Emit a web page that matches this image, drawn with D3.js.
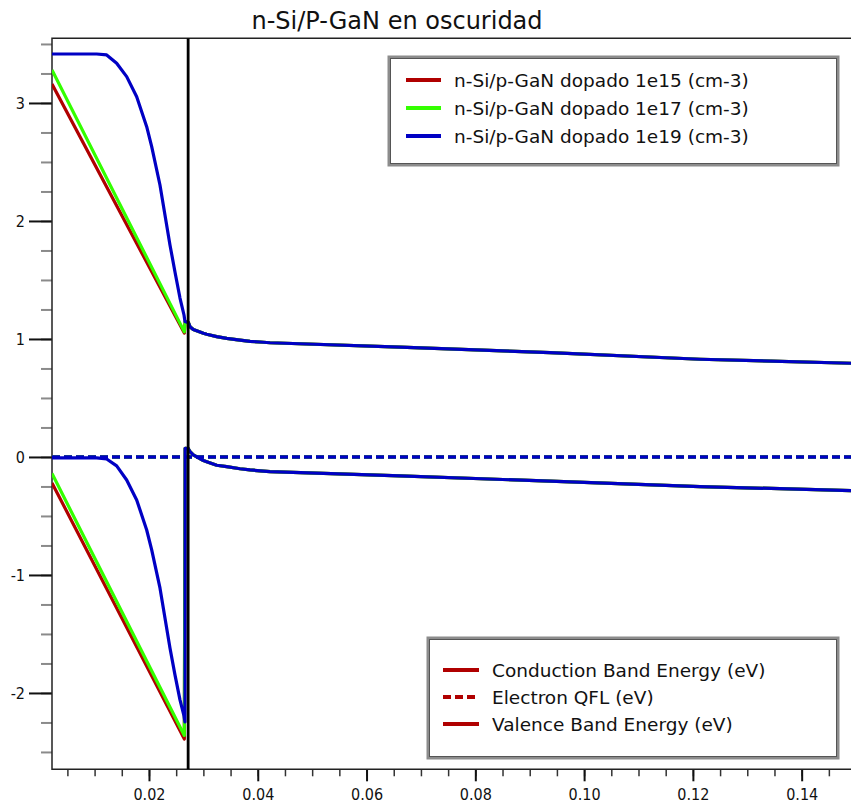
<!DOCTYPE html>
<html>
<head>
<meta charset="utf-8">
<script src="https://cdn.jsdelivr.net/npm/d3@7"></script>
<style>
    html, body { margin: 0; padding: 0; background: #fff; }
    svg { display: block; }
</style>
</head>
<body>
<div class="svg-container"></div>
<script>
'use strict';

// axis ticks
var xMajorTicks = [0.02, 0.04, 0.06, 0.08, 0.10, 0.12, 0.14];
var xTickLabels = ['0.02', '0.04', '0.06', '0.08', '0.10', '0.12', '0.14'];
var yMajorTicks = [-2, -1, 0, 1, 2, 3];
var yTickLabels = ['-2', '-1', '0', '1', '2', '3'];

var xDomain = [0.00217, 0.14907];
var yDomain = [-2.647, 3.548];
var junctionX = 0.0272;

// p-GaN side, 1e15 and 1e17 are straight
var ganX = [0.00217, 0.0265];
var ecGaN15 = [3.16, 1.05];
var evGaN15 = [-0.22, -2.39];
var ecGaN17 = [3.28, 1.06];
var evGaN17 = [-0.14, -2.36];

// p-GaN side, 1e19
var ganX19 = [0.00217, 0.0085, 0.01038, 0.01222, 0.01406, 0.0159, 0.01774, 0.01958,
    0.0205, 0.02202, 0.02294, 0.02386, 0.02478, 0.0257, 0.02644, 0.02662];
var ecGaN19 = [3.415, 3.415, 3.415, 3.407, 3.336, 3.223, 3.053, 2.799,
    2.63, 2.305, 2.05, 1.797, 1.568, 1.347, 1.203, 1.147];
var evGaN19 = [-0.008, -0.008, -0.008, -0.017, -0.076, -0.195, -0.364, -0.619,
    -0.788, -1.11, -1.364, -1.619, -1.847, -2.059, -2.195, -2.246];

// n-Si side, the three dopings overlap
var siX = [0.02665, 0.02723, 0.02754, 0.02814, 0.03, 0.03061, 0.03245, 0.03429,
    0.03673, 0.03857, 0.04102, 0.04225, 0.06615, 0.09373, 0.1213, 0.14907];
var ecSi = [1.147, 1.14, 1.104, 1.08, 1.048, 1.04, 1.02, 1.005,
    0.99, 0.98, 0.972, 0.968, 0.93, 0.885, 0.828, 0.794];
var evSi = [0.074, 0.07, 0.045, 0.017, -0.03, -0.04, -0.07, -0.082,
    -0.10, -0.11, -0.12, -0.124, -0.16, -0.205, -0.251, -0.285];

// electron quasi fermi level
var qflX = [0.00217, 0.14907];
var qfl = [0, 0];

var dopings = ['1e15', '1e17', '1e19'];
var dopingColors = ['#b00000', '#33ff00', '#0000c4'];
var bandLabels = ['Conduction Band Energy (eV)', 'Electron QFL (eV)', 'Valence Band Energy (eV)'];

var W = 851, H = 807;
var plot = {left: 52, top: 38.3, right: 851, bottom: 769.3};

function zip(xs, ys){
    return xs.map(function(x, i){ return [x, ys[i]]; });
}

var svg = d3.select('.svg-container').append('svg')
    .attr('width', W)
    .attr('height', H)
    .style('font-family', '"DejaVu Sans", Verdana, sans-serif');

var x = d3.scaleLinear().domain(xDomain).range([plot.left, plot.right]);
var y = d3.scaleLinear().domain(yDomain).range([plot.bottom, plot.top]);

svg.append('defs').append('clipPath')
    .attr('id', 'plotClip')
    .append('rect')
    .attr('x', plot.left)
    .attr('y', plot.top)
    .attr('width', plot.right - plot.left)
    .attr('height', plot.bottom - plot.top);

// title
svg.append('text')
    .attr('x', 397)
    .attr('y', 29)
    .attr('text-anchor', 'middle')
    .style('font-size', '24px')
    .style('fill', '#111')
    .text('n-Si/P-GaN en oscuridad');

// axes: minor ticks first, then major
function styleAxis(g, color, width){
    g.select('.domain').remove();
    g.selectAll('.tick line').attr('stroke', color).attr('stroke-width', width);
    g.selectAll('.tick text')
        .style('font-family', '"DejaVu Sans Condensed", "DejaVu Sans", sans-serif')
        .style('font-size', '16px')
        .style('fill', '#111');
}

svg.append('g')
    .attr('transform', 'translate(0,' + plot.bottom + ')')
    .call(d3.axisBottom(x).tickValues(d3.range(0.005, 0.1491, 0.005)).tickSize(7).tickFormat(''))
    .call(styleAxis, '#333', 1.5);

svg.append('g')
    .attr('transform', 'translate(0,' + plot.bottom + ')')
    .call(d3.axisBottom(x).tickValues(xMajorTicks).tickSize(12).tickPadding(7)
        .tickFormat(function(d, i){ return xTickLabels[i]; }))
    .call(styleAxis, '#111', 2);

svg.append('g')
    .attr('transform', 'translate(' + plot.left + ',0)')
    .call(d3.axisLeft(y).tickValues(d3.range(-2.5, 3.6, 0.25)).tickSize(11).tickFormat(''))
    .call(styleAxis, '#8a8a8a', 2);

svg.append('g')
    .attr('transform', 'translate(' + plot.left + ',0)')
    .call(d3.axisLeft(y).tickValues(yMajorTicks).tickSize(23).tickPadding(4)
        .tickFormat(function(d, i){ return yTickLabels[i]; }))
    .call(styleAxis, '#111', 2);

// frame
svg.append('path')
    .attr('d', 'M' + (plot.right + 2) + ',' + plot.top + 'H' + plot.left + 'V' + plot.bottom + 'H' + (plot.right + 2))
    .attr('fill', 'none')
    .attr('stroke', '#222')
    .attr('stroke-width', 1.5);

var line = d3.line()
    .x(function(d){ return x(d[0]); })
    .y(function(d){ return y(d[1]); });

var curves = svg.append('g').attr('clip-path', 'url(#plotClip)');

var ganData = [
    {ec: zip(ganX, ecGaN15), ev: zip(ganX, evGaN15)},
    {ec: zip(ganX, ecGaN17), ev: zip(ganX, evGaN17)},
    {ec: zip(ganX19, ecGaN19), ev: zip(ganX19, evGaN19)}
];

ganData.forEach(function(d, i){
    var ec = d.ec.concat(zip(siX, ecSi));
    var ev = d.ev.concat(zip(siX, evSi));
    [ec, ev].forEach(function(pts){
        curves.append('path')
            .datum(pts)
            .attr('d', line)
            .attr('fill', 'none')
            .attr('stroke', dopingColors[i])
            .attr('stroke-width', 3.2)
            .attr('stroke-linejoin', 'round');
    });
    curves.append('path')
        .datum(zip(qflX, qfl))
        .attr('d', line)
        .attr('fill', 'none')
        .attr('stroke', dopingColors[i])
        .attr('stroke-width', 3.5)
        .attr('stroke-dasharray', '8,4');
});

// junction
curves.append('line')
    .attr('x1', x(junctionX)).attr('x2', x(junctionX))
    .attr('y1', plot.top).attr('y2', plot.bottom)
    .attr('stroke', '#000')
    .attr('stroke-width', 2.8);

// legends
function legendBox(bx, by, bw, bh){
    var g = svg.append('g');
    g.append('rect')
        .attr('x', bx).attr('y', by).attr('width', bw).attr('height', bh)
        .attr('fill', '#fff')
        .attr('stroke', '#8c8c8c')
        .attr('stroke-width', 3);
    g.append('rect')
        .attr('x', bx + 1.5).attr('y', by + 1.5).attr('width', bw - 3).attr('height', bh - 3)
        .attr('fill', 'none')
        .attr('stroke', '#555')
        .attr('stroke-width', 1);
    return g;
}

var legend1 = legendBox(389, 57, 449, 108);
dopings.forEach(function(d, i){
    var ly = 80 + i * 28;
    legend1.append('line')
        .attr('x1', 406).attr('x2', 441).attr('y1', ly).attr('y2', ly)
        .attr('stroke', dopingColors[i]).attr('stroke-width', 4);
    legend1.append('text')
        .attr('x', 454).attr('y', ly + 6.5)
        .style('font-size', '18.5px')
        .style('fill', '#111')
        .text('n-Si/p-GaN dopado ' + d + ' (cm-3)');
});

var legend2 = legendBox(428, 638, 410, 120);
bandLabels.forEach(function(d, i){
    var ly = 670 + i * 27;
    legend2.append('line')
        .attr('x1', 443).attr('x2', 479).attr('y1', ly).attr('y2', ly)
        .attr('stroke', dopingColors[0]).attr('stroke-width', 4)
        .attr('stroke-dasharray', i === 1 ? '8,4' : null);
    legend2.append('text')
        .attr('x', 492).attr('y', ly + 6.5)
        .style('font-size', '18.5px')
        .style('fill', '#111')
        .text(d);
});
</script>
</body>
</html>
